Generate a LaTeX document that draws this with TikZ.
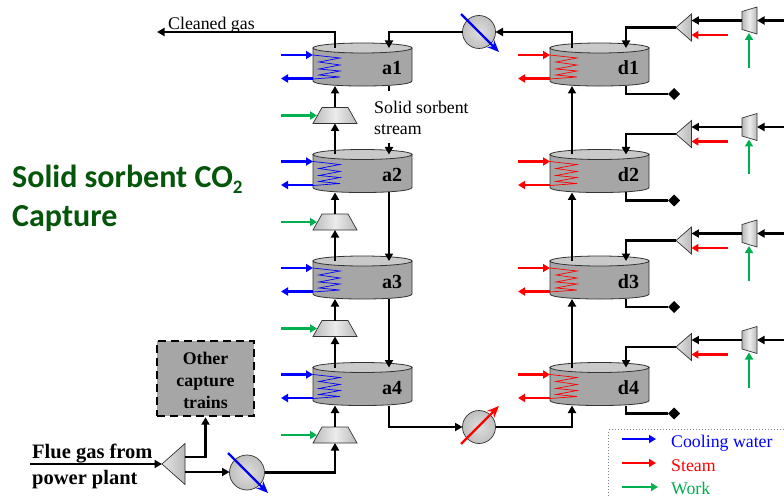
\documentclass[tikz,border=0pt]{standalone}
\usepackage{fontspec}
\setmainfont{Liberation Serif}
\newfontfamily\titlefont{Carlito}
\usetikzlibrary{arrows.meta,shapes.geometric,calc}
\definecolor{vbody}{gray}{0.65}
\definecolor{vtop}{gray}{0.79}
\definecolor{cwblue}{RGB}{0,0,255}
\definecolor{stred}{RGB}{255,0,0}
\definecolor{wkgreen}{RGB}{0,176,80}
\definecolor{titlegreen}{RGB}{5,85,10}
\tikzset{
  conn/.style={draw=black,line width=2.2pt,-{Triangle[length=7.5pt,width=8pt]}},
  plainline/.style={draw=black,line width=2.2pt},
  flow/.style={line width=2.2pt,-{Triangle[length=7pt,width=8pt]}},
  through/.style={line width=2.2pt,-{Stealth[length=12pt,width=10pt]}},
  anchorbox/.style={inner sep=0pt,outer sep=0pt,rectangle},
  hx/.style={circle,draw=black!80,line width=0.7pt,minimum size=33pt,inner sep=0pt,outer sep=0pt,shading=radial,inner color=gray!25,outer color=gray!50},
  sh/.style={draw=black!80,line width=0.7pt},
  normaltext/.style={font=\fontsize{17.8}{21}\selectfont},
  boldtext/.style={font=\fontsize{17.8}{22}\selectfont\bfseries},
}
\newcommand{\vessel}[5]{%
  \begin{scope}[shift={(#2,#3)}]
    \draw[fill=vbody,draw=black!80,line width=0.8pt] (0,0) -- (0,33) .. controls (0,39.7) and (99,39.7) .. (99,33) -- (99,0) -- cycle;
    \draw[fill=vtop,draw=black!80,line width=0.8pt] (49.5,0) ellipse [x radius=49.5,y radius=5];
    \draw[#5,line width=0.7pt] (0,7) -- (27,10) -- (6,14) -- (27,17) -- (6,21) -- (27,23) -- (6,27) -- (27,29) -- (0,31);
    \node[anchorbox,minimum width=99pt,minimum height=43pt,font=\fontsize{20}{21}\selectfont\bfseries] (#1) at (49.5,16.5) {\makebox[99pt][r]{\smash{\raisebox{-10.5pt}{#4}}\kern10pt}};
    \coordinate (#1-tl) at (22,0);
    \coordinate (#1-tr) at (76,0);
    \coordinate (#1-bl) at (22,38);
    \coordinate (#1-br) at (76,38);
    \coordinate (#1-hi) at (0,7);
    \coordinate (#1-ho) at (0,30.5);
    \coordinate (#1-fi) at (-32,7);
    \coordinate (#1-fo) at (-32,30.5);
  \end{scope}
  \draw[flow,#5] (#1-fi) -- (#1-hi);
  \draw[flow,#5] (#1-ho) -- (#1-fo);
}
\begin{document}
\begin{tikzpicture}[x=1pt,y=-1pt]
\clip (0,0) rectangle (784,497);
\fill[white] (0,0) rectangle (784,497);

% absorbers, desorbers and their side equipment
\foreach \n/\t in {1/48,2/154.5,3/261,4/367.5}{
  \vessel{a\n}{313}{\t}{a\n}{cwblue}
  \vessel{d\n}{550}{\t}{d\n}{stred}
  % compressor
  \node[anchorbox,minimum width=44pt,minimum height=16pt] (c\n) at (335,\t+67.5) {};
  \shade[sh,left color=gray!55,right color=gray!55,middle color=gray!15]
    (c\n.south west) -- (c\n.south east) -- ($(c\n.north east)+(-9,0)$) -- ($(c\n.north west)+(9,0)$) -- cycle;
  \coordinate (wi\n) at (281,\t+67.5);
  \draw[flow,wkgreen] (wi\n) -- ($(c\n.west)+(4,0)$);
  \draw[conn] (c\n.north) -- (a\n-bl);
  % splitter on the steam side
  \node[anchorbox,minimum width=15.5pt,minimum height=27pt] (m\n) at (683.7,\t-20.5) {};
  \shade[sh,left color=gray!20,right color=gray!55]
    (m\n.west) -- (m\n.north east) -- (m\n.south east) -- cycle;
  % expander
  \node[anchorbox,minimum width=15pt,minimum height=27pt] (e\n) at (749.5,\t-27.5) {};
  \shade[sh,left color=gray!55,right color=gray!55,middle color=gray!15]
    ($(e\n.north west)+(0,4.5)$) -- (e\n.north east) -- (e\n.south east) -- ($(e\n.south west)+(0,-4.5)$) -- cycle;
  \coordinate (rg\n) at (784,\t-27.5);
  \coordinate (st\n) at (728,\t-13);
  \coordinate (gw\n) at (749,\t+20);
  \node[diamond,fill=black,inner sep=0pt,outer sep=0pt,minimum size=12pt] (o\n) at (674,\t+46) {};
  \draw[conn] (rg\n) -- (e\n.east);
  \draw[conn] (e\n.west) -- (e\n.west -| m\n.east);
  \draw[flow,stred] (st\n) -- (st\n -| m\n.east);
  \draw[flow,wkgreen] (gw\n) -- ($(e\n.south)+(-0.5,-1)$);
  \draw[conn] (m\n.west) -| (d\n-tr);
  \draw[plainline] (d\n-br) |- (o\n.west);
}

% heat exchangers
\node[hx] (cool) at (479,32) {};
\node[hx] (heat) at (479,427) {};
\node[hx,minimum size=35pt] (pre) at (247,472.5) {};
\coordinate (coola) at (461,14);
\coordinate (coolb) at (499,52);
\coordinate (heata) at (461,444);
\coordinate (heatb) at (499,406);
\coordinate (prea) at (228,453);
\coordinate (preb) at (268,493);
\draw[through,cwblue] (coola) -- (coolb);
\draw[through,stred] (heata) -- (heatb);
\draw[through,cwblue] (prea) -- (preb);

% process lines
\coordinate (gas) at (157,32);
\draw[conn] (a1-tl) |- (gas);
\node[normaltext,anchor=base west,inner sep=0pt] (gaslabel) at (168,30) {Cleaned gas};
\draw[conn] (d1-tl) |- (cool.east);
\draw[conn] (cool.west) -| (a1-tr);

\draw[conn] (a2-tl) -- (c1.south);
\draw[conn] (a3-tl) -- (c2.south);
\draw[conn] (a4-tl) -- (c3.south);
\node[normaltext,inner sep=0pt,align=left,anchor=north west] (stream) at (374,100.5) {Solid sorbent\\stream};
\coordinate (sg1) at (389,91);
\coordinate (sg2) at (389,143);
\draw[plainline] (a1-br) -- (sg1);
\draw[conn] (sg2) -- (a2-tr);
\draw[conn] (a2-br) -- (a3-tr);
\draw[conn] (a3-br) -- (a4-tr);

\draw[conn] (a4-br) |- (heat.west);
\draw[conn] (heat.east) -| (d4-bl);
\draw[conn] (d4-tl) -- (d3-bl);
\draw[conn] (d3-tl) -- (d2-bl);
\draw[conn] (d2-tl) -- (d1-bl);

% flue gas inlet
\node[anchorbox,minimum width=23pt,minimum height=41pt] (f) at (173.5,464) {};
\shade[sh,left color=gray!20,right color=gray!55]
  (f.west) -- (f.north east) -- (f.south east) -- cycle;
\coordinate (flue) at (30,464);
\draw[conn] (flue) -- (f.west);
\node[font=\fontsize{20.5}{26}\selectfont\bfseries,anchor=base west,inner sep=0pt] (fl1) at (32,458.5) {Flue gas from};
\node[font=\fontsize{20.5}{26}\selectfont\bfseries,anchor=base west,inner sep=0pt] (fl2) at (32,484) {power plant};

\node[draw=black,dash pattern=on 8pt off 5pt,line width=2.4pt,fill=vbody,minimum width=97pt,minimum height=75pt,inner sep=0pt] (box) at (205.5,378.5) {};
\node[boldtext,align=center,inner sep=0pt] (boxtext) at (205.5,380) {Other\\capture\\trains};
\coordinate (fu) at ($(f.east)+(0,-7)$);
\coordinate (fd) at ($(f.east)+(0,8)$);
\draw[conn] (fu) -| (box.south);
\draw[conn] (fd) -- (fd -| pre.west);
\draw[conn] (pre.east) -| (c4.south);

% title
\node[font=\fontsize{32}{39}\selectfont\titlefont\bfseries,text=titlegreen,anchor=north west,align=left,inner sep=0pt] (title) at (12,164.5) {Solid sorbent CO\raisebox{-6.7pt}{\fontsize{19}{19}\selectfont 2}\\Capture};

% legend
\node[draw=gray,dotted,line width=1pt,minimum width=200pt,minimum height=90pt,anchor=north west,inner sep=0pt] (legend) at (608,429) {};
\coordinate (l1a) at (622,439); \coordinate (l1b) at (656,439);
\coordinate (l2a) at (622,463); \coordinate (l2b) at (656,463);
\coordinate (l3a) at (622,487); \coordinate (l3b) at (658,487);
\draw[flow,cwblue] (l1a) -- (l1b);
\draw[flow,stred] (l2a) -- (l2b);
\draw[flow,wkgreen] (l3a) -- (l3b);
\node[normaltext,text=cwblue,anchor=base west,inner sep=0pt] (lt1) at (671,447) {Cooling water};
\node[normaltext,text=stred,anchor=base west,inner sep=0pt] (lt2) at (671,471) {Steam};
\node[normaltext,text=wkgreen,anchor=base west,inner sep=0pt] (lt3) at (671,494) {Work};
\end{tikzpicture}
\end{document}
